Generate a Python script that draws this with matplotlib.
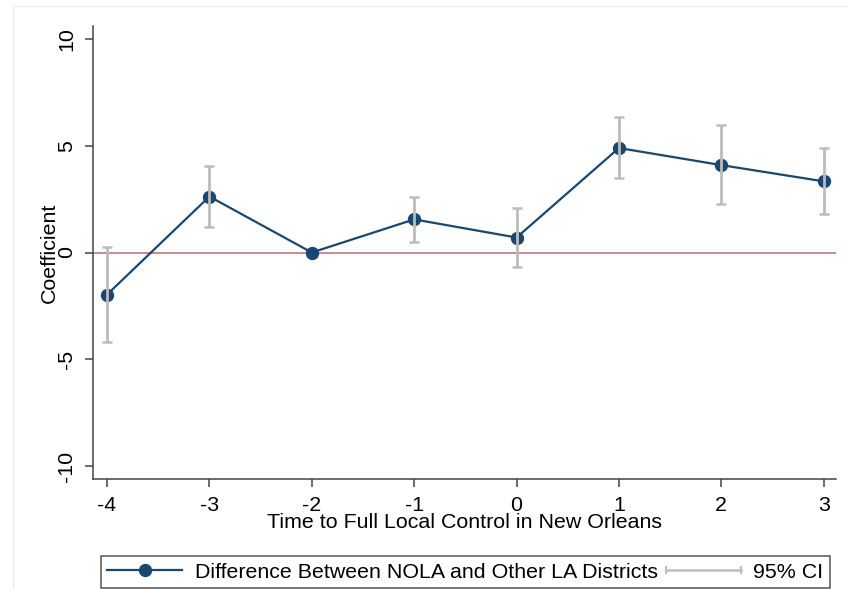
import numpy as np
import matplotlib
matplotlib.use("Agg")
import matplotlib.pyplot as plt
from matplotlib.lines import Line2D
from matplotlib.legend_handler import HandlerLine2D
from matplotlib.patches import Rectangle

plt.rcParams['font.family'] = ['Liberation Sans', 'DejaVu Sans']

# event-study estimates, relative years -4..3 (year -2 is the omitted reference)
years = [-4, -3, -2, -1, 0, 1, 2, 3]
coef = [-1.97, 2.62, 0.0, 1.55, 0.70, 4.89, 4.09, 3.33]
ci_low = [-4.17, 1.17, np.nan, 0.47, -0.66, 3.48, 2.25, 1.78]
ci_high = [0.28, 4.03, np.nan, 2.58, 2.06, 6.32, 5.98, 4.87]

yticks = [-10, -5, 0, 5, 10]

navy = '#1a476f'
ci_gray = '#bcbcbc'
axis_gray = '#444444'
fs = 15.4

fig = plt.figure(figsize=(8.48, 5.89), dpi=100)
ax = fig.add_axes([93 / 848, 1 - 479 / 589, (836 - 93) / 848, (479 - 26) / 589])

# faint outer frame of the graph window
fig.patches.append(Rectangle((13 / 848, -0.01), 1.0, 1 - 6 / 589 + 0.01,
                             transform=fig.transFigure, fill=False,
                             edgecolor='#eeeeee', linewidth=1.0))

x = np.array(years, dtype=float)
y = np.array(coef)
lo = np.array(ci_low)
hi = np.array(ci_high)
ok = ~np.isnan(lo)

ax.axhline(0, color='#c26a74', linewidth=1.1, zorder=1)
ax.plot(x, y, color=navy, linewidth=1.6, marker='o', markersize=8.6,
        markerfacecolor=navy, markeredgecolor=navy, zorder=2)
ax.errorbar(x[ok], (lo[ok] + hi[ok]) / 2, yerr=(hi[ok] - lo[ok]) / 2, fmt='none',
            ecolor=ci_gray, elinewidth=2.0, capsize=3.6, capthick=1.8, zorder=3)

ax.set_xlim(-4.137, 3.12)
ax.set_ylim(-10.6, 10.6)
ax.set_xticks(years)
ax.set_xticklabels([str(v) for v in years])
ax.set_yticks(yticks)
ax.set_yticklabels([str(v) for v in yticks])

for side in ['top', 'right']:
    ax.spines[side].set_visible(False)
for side in ['left', 'bottom']:
    ax.spines[side].set_color(axis_gray)
    ax.spines[side].set_linewidth(1.1)

ax.tick_params(axis='both', direction='out', length=6, width=1.1, color=axis_gray,
               labelsize=fs, labelcolor='black')
ax.tick_params(axis='x', pad=6)
ax.tick_params(axis='y', pad=6, labelrotation=90)
for lab in ax.get_yticklabels():
    lab.set_va('center')

ax.set_xlabel('Time to Full Local Control in New Orleans', fontsize=fs, labelpad=-1)
ax.set_ylabel('Coefficient', fontsize=fs, labelpad=-1)

# legend below the plot
h_est = Line2D([], [], color=navy, linewidth=1.6, marker='o', markersize=8.6)
h_ci = Line2D([], [], color=ci_gray, linewidth=1.8, marker='|', markersize=6,
              markeredgewidth=1.5)
leg = fig.legend([h_est, h_ci], ['Difference Between NOLA and Other LA Districts', '95% CI'],
                 handler_map={h_est: HandlerLine2D(numpoints=1),
                              h_ci: HandlerLine2D(numpoints=2, marker_pad=0)},
                 loc='lower left', ncol=2, mode='expand',
                 bbox_to_anchor=(101 / 848, 1 - 588 / 589, (830 - 101) / 848, (588 - 549) / 589),
                 fontsize=fs, handlelength=3.5, handletextpad=0.6, borderpad=0.3,
                 borderaxespad=0, fancybox=False, framealpha=1)
leg.get_frame().set_edgecolor('#555555')
leg.get_frame().set_linewidth(1.1)

fig.savefig('out.png', dpi=100)
